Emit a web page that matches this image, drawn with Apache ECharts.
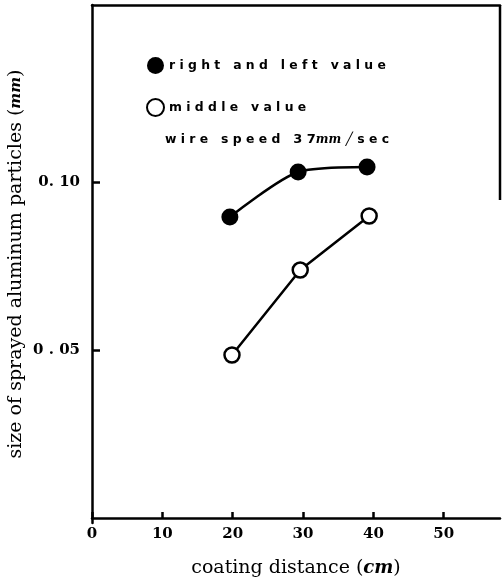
<!DOCTYPE html>
<html>
<head>
<meta charset="utf-8">
<script src="https://cdn.jsdelivr.net/npm/echarts@6/dist/echarts.min.js"></script>
<style>html,body{margin:0;padding:0;background:#fff}#c{width:503px;height:586px}</style>
</head>
<body>
<div id="c"></div>
<script>
const xTicks = [0, 10, 20, 30, 40, 50];
const yTicks = [0.05, 0.10];
const seriesNames = ['right and left value', 'middle value'];
const rlX = [19.6, 29.3, 39.1];
const rlY = [0.0896, 0.1030, 0.1045];
const midX = [19.9, 29.6, 39.4];
const midY = [0.0485, 0.0738, 0.0899];

const spaced = {
  'right and left value': 'r i g h t   a n d   l e f t   v a l u e',
  'middle value': 'm i d d l e   v a l u e'
};

const Y_MIN = -0.0015, Y_MAX = 0.1527;
const GRID_TOP = 5, GRID_BOTTOM_PX = 523;
const pxPerUnit = (GRID_BOTTOM_PX - GRID_TOP) / (Y_MAX - Y_MIN);
const tickTop = GRID_BOTTOM_PX - (yTicks[1] - Y_MIN) * pxPerUnit;
const tickBottom = GRID_BOTTOM_PX - (yTicks[0] - Y_MIN) * pxPerUnit;

const chart = echarts.init(document.getElementById('c'), null, {renderer: 'canvas'});
const serif = 'DejaVu Serif';
chart.setOption({
  animation: false,
  backgroundColor: '#fff',
  grid: [
    {left: 92, right: 3, top: GRID_TOP, bottom: 586 - GRID_BOTTOM_PX, containLabel: false, outerBoundsMode: 'none'},
    {left: 92, right: 3, top: tickTop, bottom: 586 - tickBottom, containLabel: false, outerBoundsMode: 'none'}
  ],
  legend: {
    data: seriesNames,
    orient: 'vertical',
    left: 141, top: 52,
    itemWidth: 17, itemHeight: 17, itemGap: 24,
    icon: 'circle',
    formatter: n => spaced[n],
    textStyle: {fontFamily: 'DejaVu Sans', fontWeight: 'bold', fontSize: 12.4, color: '#000'}
  },
  xAxis: [{
    gridIndex: 0, type: 'value', min: 0, max: 58, interval: 10,
    name: 'coating distance ({i|cm})', nameLocation: 'middle', nameGap: 36,
    nameTextStyle: {fontFamily: serif, fontSize: 19, color: '#000',
      rich: {i: {fontFamily: serif, fontStyle: 'italic', fontWeight: 'bold', fontSize: 18, color: '#000'}}},
    axisLine: {lineStyle: {color: '#000', width: 2.5}},
    axisTick: {inside: true, length: 6, lineStyle: {color: '#000', width: 2.5}},
    axisLabel: {fontFamily: serif, fontWeight: 'bold', fontSize: 15, color: '#000', margin: 4,
      showMaxLabel: false,
      formatter: v => (xTicks.indexOf(v) >= 0 ? String(v) : '')},
    splitLine: {show: false}
  }, {
    gridIndex: 0, type: 'value', min: 0, max: 58, position: 'top',
    axisLine: {show: true, lineStyle: {color: '#000', width: 2.5}},
    axisTick: {show: false}, axisLabel: {show: false}, splitLine: {show: false}
  }, {
    gridIndex: 1, type: 'value', min: 0, max: 58, show: false
  }],
  yAxis: [{
    gridIndex: 0, type: 'value', min: Y_MIN, max: Y_MAX,
    name: 'size of sprayed aluminum particles ({i|mm})', nameLocation: 'middle', nameGap: 66,
    nameTextStyle: {fontFamily: serif, fontSize: 19, color: '#000',
      rich: {i: {fontFamily: serif, fontStyle: 'italic', fontWeight: 'bold', fontSize: 15, color: '#000'}}},
    axisLine: {lineStyle: {color: '#000', width: 2.5}},
    axisTick: {show: false},
    axisLabel: {show: false},
    splitLine: {show: false}
  }, {
    gridIndex: 1, type: 'value', min: yTicks[0], max: yTicks[1], interval: yTicks[1] - yTicks[0],
    axisLine: {show: false},
    axisTick: {show: true, inside: true, length: 8, lineStyle: {color: '#000', width: 2.5}},
    axisLabel: {fontFamily: serif, fontWeight: 'bold', fontSize: 15, color: '#000', margin: 12,
      formatter: v => (Math.abs(v - 0.1) < 1e-6 ? '0. 10' : '0 . 05')},
    splitLine: {show: false}
  }],
  graphic: [
    {type: 'line', shape: {x1: 500, y1: 5, x2: 500, y2: 200}, style: {stroke: '#000', lineWidth: 2.5}},
    {type: 'text', left: 165, top: 133, style: {
      text: 'w i r e   s p e e d   {b|3 7}{i|mm} ╱ s e c',
      fontFamily: 'DejaVu Sans', fontWeight: 'bold', fontSize: 12.4, fill: '#000',
      rich: {b: {fontFamily: 'DejaVu Sans', fontWeight: 'bold', fontSize: 13, fill: '#000'},
             i: {fontFamily: 'DejaVu Serif', fontStyle: 'italic', fontWeight: 'bold', fontSize: 12, fill: '#000'}}
    }}
  ],
  series: [{
    name: seriesNames[0], type: 'line', smooth: 0.25, xAxisIndex: 0, yAxisIndex: 0,
    data: rlX.map((x, i) => [x, rlY[i]]),
    symbol: 'circle', symbolSize: 17,
    itemStyle: {color: '#000'},
    lineStyle: {color: '#000', width: 2.5}
  }, {
    name: seriesNames[1], type: 'line', xAxisIndex: 0, yAxisIndex: 0,
    data: midX.map((x, i) => [x, midY[i]]),
    symbol: 'circle', symbolSize: 15,
    itemStyle: {color: '#fff', borderColor: '#000', borderWidth: 2.5},
    lineStyle: {color: '#000', width: 2.5}
  }]
});
</script>
</body>
</html>
